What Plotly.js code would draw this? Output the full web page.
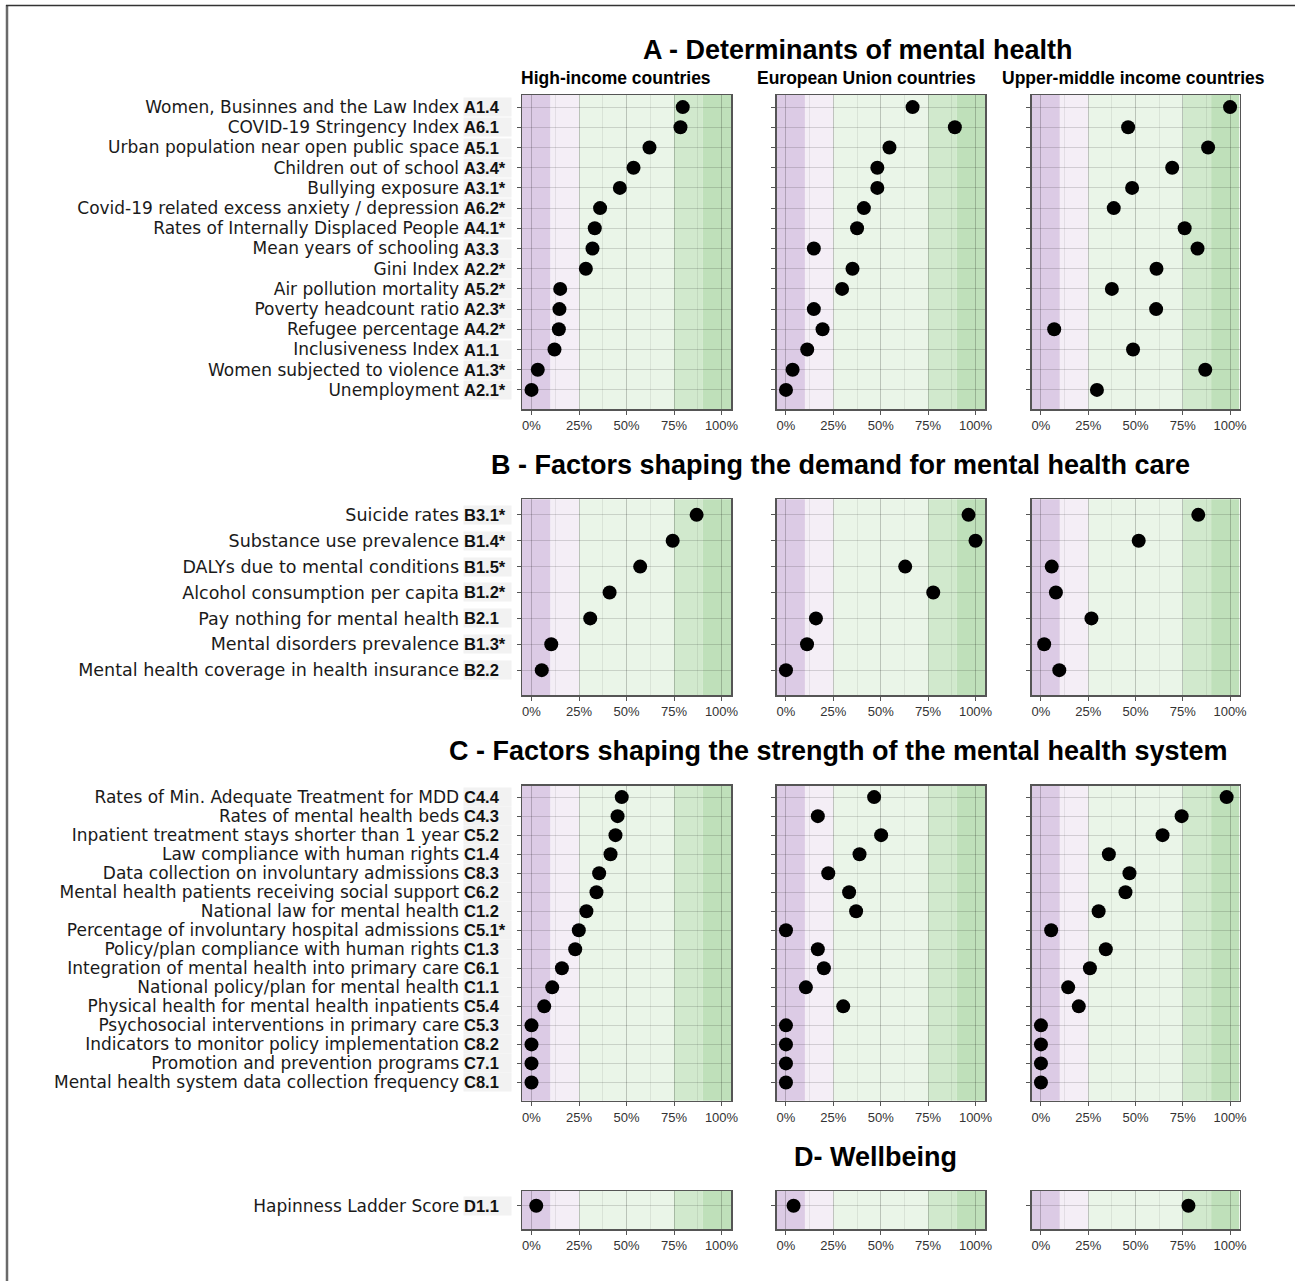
<!DOCTYPE html>
<html><head><meta charset="utf-8">
<script src="https://cdn.plot.ly/plotly-3.0.1.min.js"></script>
<style>html,body{margin:0;padding:0;background:#fff}</style>
</head><body><div id="chart" style="width:1295px;height:1281px"></div>
<script>
const W = 1295, H = 1281;

const columns = ["High-income countries", "European Union countries", "Upper-middle income countries"];
const sectionTitles = ["A - Determinants of mental health", "B - Factors shaping the demand for mental health care",
  "C - Factors shaping the strength of the mental health system", "D- Wellbeing"];

const aNames = ["Women, Businnes and the Law Index", "COVID-19 Stringency Index", "Urban population near open public space",
  "Children out of school", "Bullying exposure", "Covid-19 related excess anxiety / depression",
  "Rates of Internally Displaced People", "Mean years of schooling", "Gini Index", "Air pollution mortality",
  "Poverty headcount ratio", "Refugee percentage", "Inclusiveness Index", "Women subjected to violence", "Unemployment"];
const aCodes = ["A1.4", "A6.1", "A5.1", "A3.4*", "A3.1*", "A6.2*", "A4.1*", "A3.3", "A2.2*", "A5.2*", "A2.3*", "A4.2*", "A1.1", "A1.3*", "A2.1*"];
const aHIC  = [0.796, 0.784, 0.621, 0.537, 0.465, 0.361, 0.333, 0.321, 0.286, 0.151, 0.147, 0.144, 0.121, 0.033, 0.0];
const aEU   = [0.668, 0.891, 0.546, 0.482, 0.482, 0.411, 0.375, 0.147, 0.351, 0.296, 0.147, 0.193, 0.112, 0.035, 0.0];
const aUMIC = [1.0, 0.461, 0.884, 0.694, 0.482, 0.385, 0.760, 0.828, 0.611, 0.375, 0.609, 0.070, 0.487, 0.869, 0.296];

const bNames = ["Suicide rates", "Substance use prevalence", "DALYs due to mental conditions", "Alcohol consumption per capita",
  "Pay nothing for mental health", "Mental disorders prevalence", "Mental health coverage in health insurance"];
const bCodes = ["B3.1*", "B1.4*", "B1.5*", "B1.2*", "B2.1", "B1.3*", "B2.2"];
const bHIC  = [0.869, 0.743, 0.572, 0.411, 0.309, 0.104, 0.054];
const bEU   = [0.963, 1.0, 0.629, 0.777, 0.158, 0.111, 0.0];
const bUMIC = [0.832, 0.517, 0.057, 0.079, 0.267, 0.017, 0.097];

const cNames = ["Rates of Min. Adequate Treatment for MDD", "Rates of mental health beds", "Inpatient treatment stays shorter than 1 year",
  "Law compliance with human rights", "Data collection on involuntary admissions", "Mental health patients receiving social support",
  "National law for mental health", "Percentage of involuntary hospital admissions", "Policy/plan compliance with human rights",
  "Integration of mental health into primary care", "National policy/plan for mental health", "Physical health for mental health inpatients",
  "Psychosocial interventions in primary care", "Indicators to monitor policy implementation", "Promotion and prevention programs",
  "Mental health system data collection frequency"];
const cCodes = ["C4.4", "C4.3", "C5.2", "C1.4", "C8.3", "C6.2", "C1.2", "C5.1*", "C1.3", "C6.1", "C1.1", "C5.4", "C5.3", "C8.2", "C7.1", "C8.1"];
const cHIC  = [0.475, 0.453, 0.442, 0.416, 0.356, 0.342, 0.289, 0.249, 0.230, 0.160, 0.109, 0.067, 0.0, 0.0, 0.0, 0.0];
const cEU   = [0.465, 0.168, 0.502, 0.388, 0.223, 0.333, 0.370, 0.0, 0.168, 0.200, 0.105, 0.302, 0.0, 0.0, 0.0, 0.0];
const cUMIC = [0.982, 0.744, 0.643, 0.359, 0.468, 0.447, 0.305, 0.054, 0.343, 0.259, 0.144, 0.200, 0.0, 0.0, 0.0, 0.0];

const dNames = ["Hapinness Ladder Score"];
const dCodes = ["D1.1"];
const dHIC  = [0.025];
const dEU   = [0.040];
const dUMIC = [0.78];

const xTickVals = [0, 0.25, 0.5, 0.75, 1];
const xTickText = ["0%", "25%", "50%", "75%", "100%"];
const bandEdges = [-0.05, 0.10, 0.25, 0.75, 0.90, 1.05];
const bandColors = ["#dccbe5", "#f4eef6", "#eaf5e8", "#d1e9cd", "#bfe0ba"];

const sections = [
  {names: aNames, codes: aCodes, vals: [aHIC, aEU, aUMIC]},
  {names: bNames, codes: bCodes, vals: [bHIC, bEU, bUMIC]},
  {names: cNames, codes: cCodes, vals: [cHIC, cEU, cUMIC]},
  {names: dNames, codes: dCodes, vals: [dHIC, dEU, dUMIC]}
];

// layout geometry in pixels
const colX = [[522, 731], [776.5, 985], [1031.5, 1239.5]];
const secY = [[95, 409.3], [499.3, 695], [785.7, 1100.7], [1191, 1229.3]];
const nameSize = [17, 17.5, 17, 17];
const titleY = [50, 465, 751, 1157];
const titleX = [858, 840, 839, 875];
const headerX = [616, 866, 1133];
const px = v => v / W;
const py = v => 1 - v / H;

const traces = [];
const layout = {
  width: W, height: H,
  margin: {l: 0, r: 0, t: 0, b: 0},
  paper_bgcolor: "#ffffff", plot_bgcolor: "rgba(0,0,0,0)",
  showlegend: false,
  shapes: [], annotations: []
};

sections.forEach((sec, s) => {
  const n = sec.codes.length;
  const rowH = (secY[s][1] - secY[s][0]) / (n + 0.56);
  for (let c = 0; c < 3; c++) {
    const idx = s * 3 + c + 1;
    const xa = "x" + idx, ya = "y" + idx;
    traces.push({
      type: "scatter", mode: "markers",
      x: sec.vals[c], y: sec.codes,
      xaxis: xa, yaxis: ya,
      marker: {color: "#000000", size: 14},
      hoverinfo: "x+y"
    });
    layout["xaxis" + idx] = {
      domain: [px(colX[c][0]), px(colX[c][1])],
      anchor: ya, range: [-0.05, 1.05], fixedrange: true,
      tickvals: xTickVals, ticktext: xTickText,
      ticks: "outside", ticklen: 4, tickcolor: "#555", tickwidth: 1,
      tickfont: {family: "Liberation Sans, Arial, sans-serif", size: 13, color: "#333"},
      showgrid: true, gridcolor: "rgba(0,0,0,0.14)", gridwidth: 1,
      minor: {dtick: 0.125, tick0: 0, showgrid: true, gridcolor: "rgba(0,0,0,0.07)", gridwidth: 1},
      zeroline: false,
      showline: true, mirror: true, linecolor: "#555", linewidth: 1.5
    };
    const yax = {
      domain: [py(secY[s][1]), py(secY[s][0])],
      anchor: xa, type: "category",
      categoryarray: sec.codes, categoryorder: "array",
      range: [n - 1 + 0.96, -0.6], fixedrange: true,
      ticks: "outside", ticklen: 4, tickcolor: "#555", tickwidth: 1,
      showgrid: true, gridcolor: "rgba(0,0,0,0.14)", gridwidth: 1,
      zeroline: false,
      showline: true, mirror: true, linecolor: "#555", linewidth: 1.5
    };
    if (c === 0) {
      yax.tickvals = sec.codes;
      yax.ticktext = sec.names;
      yax.showticklabels = true;
      yax.ticklabelstandoff = 54;
      yax.tickfont = {family: "DejaVu Sans, sans-serif", size: nameSize[s], color: "#1a1a1a"};
      sec.codes.forEach(code => {
        layout.annotations.push({
          xref: "paper", yref: ya, x: px(463), y: code,
          xanchor: "left", yanchor: "middle", align: "left",
          text: code, showarrow: false,
          width: 47, height: Math.min(18, rowH - 1), borderpad: 0,
          bgcolor: "#f2f2f2",
          font: {family: "Liberation Sans, Arial, sans-serif", size: 16.5, color: "#111", weight: 700}
        });
      });
    } else {
      yax.showticklabels = false;
    }
    layout["yaxis" + idx] = yax;
    for (let b = 0; b < bandColors.length; b++) {
      layout.shapes.push({
        type: "rect", layer: "below",
        xref: xa, yref: ya + " domain",
        x0: bandEdges[b], x1: bandEdges[b + 1], y0: 0, y1: 1,
        fillcolor: bandColors[b], line: {width: 0}
      });
    }
  }
  layout.annotations.push({
    xref: "paper", yref: "paper", x: px(titleX[s]), y: py(titleY[s]),
    xanchor: "center", yanchor: "middle", showarrow: false,
    text: sectionTitles[s],
    font: {family: "Liberation Sans, Arial, sans-serif", size: 27, color: "#000", weight: 700}
  });
});

columns.forEach((h, c) => {
  layout.annotations.push({
    xref: "paper", yref: "paper", x: px(headerX[c]), y: py(78),
    xanchor: "center", yanchor: "middle", showarrow: false,
    text: h,
    font: {family: "Liberation Sans, Arial, sans-serif", size: 17.5, color: "#000", weight: 700}
  });
});

// outer frame (left and top edges)
layout.shapes.push({type: "line", xref: "paper", yref: "paper", x0: px(7), x1: px(7), y0: py(5), y1: 0,
  line: {color: "#6a6a6a", width: 2.5}});
layout.shapes.push({type: "line", xref: "paper", yref: "paper", x0: px(6), x1: 1, y0: py(5.5), y1: py(5.5),
  line: {color: "#333", width: 1.5}});

Plotly.newPlot("chart", traces, layout, {displayModeBar: false, staticPlot: true});
</script></body></html>
